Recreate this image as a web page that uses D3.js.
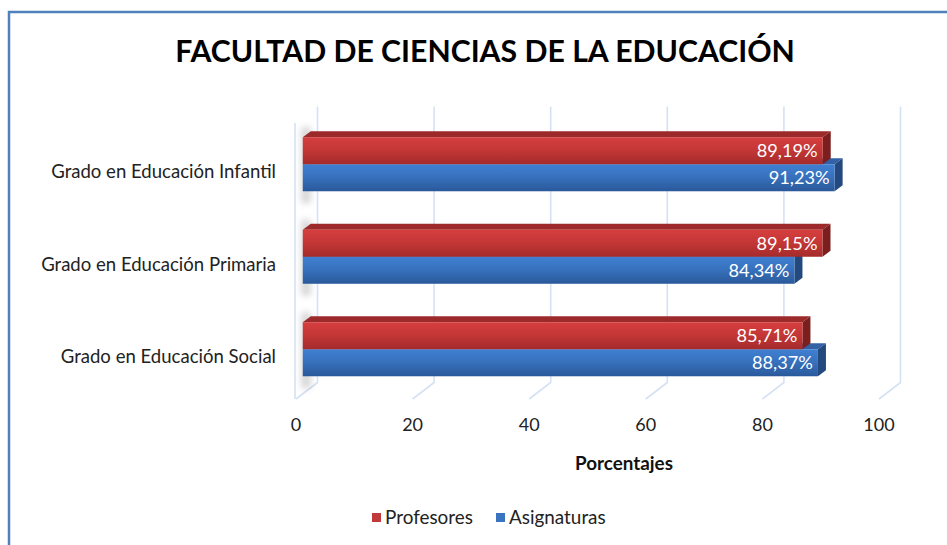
<!DOCTYPE html>
<meta charset="utf-8">
<style>
  body { margin: 0; background: #fff; }
  svg { display: block; font-family: Lato, "Open Sans", sans-serif; }
  .grid { stroke: #d5e2f4; stroke-width: 1.6; fill: none; }
  .cat { fill: #222; }
  .tick { font-size: 18px; fill: #222; }
  .val { fill: #fff; }
  .leg { fill: #222; }
</style>
<body>
<div id="chart"></div>
<script src="https://d3js.org/d3.v7.min.js"></script>
<script>
  // data
  var categories = ["Grado en Educación Infantil", "Grado en Educación Primaria", "Grado en Educación Social"];
  var seriesNames = ["Profesores", "Asignaturas"];
  var profesores = [89.19, 89.15, 85.71];
  var asignaturas = [91.23, 84.34, 88.37];
  var tickValues = [0, 20, 40, 60, 80, 100];
  var title = "FACULTAD DE CIENCIAS DE LA EDUCACIÓN";
  var axisTitle = "Porcentajes";

  var width = 947, height = 545;

  // 3d box: depth offsets of the plot and of the bars
  var depth = { dx: 21.5, dy: -16.5 };
  var barDepth = { dx: 8, dy: -6 };
  var barOff = { dx: 6.75, dy: -5 };
  var floorY = 399, topY = 123;

  var colors = {
    Profesores: { light: "#d63e3e", dark: "#a52b2b", top: "#9c2a2a", side: "#7b1e1e", legend: "#c0393b" },
    Asignaturas: { light: "#3f7fd2", dark: "#2a599a", top: "#3262a5", side: "#23497e", legend: "#3a73c0" }
  };

  // scale a text group's font so that one sample string gets the measured width
  function fitFont(sel, base, target) {
    sel.style("font-size", base + "px");
    var w = sel.node().getComputedTextLength();
    sel.style("font-size", (base * target / w) + "px");
  }

  var x = d3.scaleLinear().domain([0, 100]).range([296, 879]);

  var y = d3.scaleBand()
    .domain(categories)
    .range([118 - barOff.dy, 395.5 - barOff.dy])
    .paddingInner(0.416)
    .paddingOuter(0.208);

  var ys = d3.scaleBand().domain(seriesNames).range([0, y.bandwidth()]);

  var svg = d3.select("#chart").append("svg")
    .attr("width", width)
    .attr("height", height);

  var defs = svg.append("defs");
  seriesNames.forEach(function(s, i) {
    var g = defs.append("linearGradient")
      .attr("id", "grad" + i)
      .attr("x1", 0).attr("y1", 0).attr("x2", 0).attr("y2", 1);
    g.append("stop").attr("offset", "0%").attr("stop-color", colors[s].light);
    g.append("stop").attr("offset", "45%").attr("stop-color", d3.interpolateRgb(colors[s].light, colors[s].dark)(0.35));
    g.append("stop").attr("offset", "100%").attr("stop-color", colors[s].dark);
  });
  defs.append("filter").attr("id", "blur")
    .attr("x", "-50%").attr("y", "-50%").attr("width", "200%").attr("height", "200%")
    .append("feGaussianBlur").attr("stdDeviation", 3);

  // outer border (only top/left visible in the window)
  svg.append("rect")
    .attr("x", 9).attr("y", 12)
    .attr("width", 1000).attr("height", 700)
    .attr("fill", "none")
    .attr("stroke", "#4f81bd")
    .attr("stroke-width", 2.5);

  // title
  var t = svg.append("text")
    .attr("x", 485).attr("y", 62)
    .attr("text-anchor", "middle")
    .style("font-weight", "bold")
    .attr("fill", "#000")
    .text(title);
  fitFont(t, 30, 620);

  // back wall gridlines + floor lines
  var grid = svg.append("g");
  grid.selectAll(".gl")
    .data(tickValues)
    .enter().append("polyline")
    .attr("class", "grid")
    .attr("points", function(d) {
      var bx = x(d) + depth.dx;
      return [[bx, topY + depth.dy], [bx, floorY + depth.dy], [x(d), floorY]].join(" ");
    });

  // left wall front edge
  grid.append("line")
    .attr("class", "grid")
    .attr("x1", x(0) - 1).attr("x2", x(0) - 1)
    .attr("y1", topY).attr("y2", floorY);

  // bar shadows on the left wall
  svg.append("g").selectAll("rect")
    .data(categories)
    .enter().append("rect")
    .attr("x", x(0) + 5)
    .attr("width", 10)
    .attr("y", function(d) { return y(d) + barOff.dy - 10; })
    .attr("height", y.bandwidth() + 22)
    .attr("fill", "#666")
    .attr("opacity", 0.25)
    .attr("filter", "url(#blur)");

  // bars: blue first so red covers its hidden top face
  var bars = [];
  categories.forEach(function(c, i) {
    bars.push({ cat: c, series: "Asignaturas", idx: 1, value: asignaturas[i] });
    bars.push({ cat: c, series: "Profesores", idx: 0, value: profesores[i] });
  });

  var bar = svg.append("g").selectAll("g")
    .data(bars)
    .enter().append("g");

  function geom(d) {
    var x0 = x(0) + barOff.dx, x1 = x(d.value) + barOff.dx;
    var y0 = y(d.cat) + barOff.dy + ys(d.series), y1 = y0 + ys.bandwidth();
    return { x0: x0, x1: x1, y0: y0, y1: y1 };
  }

  // top face
  bar.append("polygon")
    .attr("points", function(d) {
      var g = geom(d);
      return [[g.x0, g.y0], [g.x1, g.y0], [g.x1 + barDepth.dx, g.y0 + barDepth.dy], [g.x0 + barDepth.dx, g.y0 + barDepth.dy]].join(" ");
    })
    .attr("fill", function(d) { return colors[d.series].top; });

  // side face
  bar.append("polygon")
    .attr("points", function(d) {
      var g = geom(d);
      return [[g.x1, g.y0], [g.x1 + barDepth.dx, g.y0 + barDepth.dy], [g.x1 + barDepth.dx, g.y1 + barDepth.dy], [g.x1, g.y1]].join(" ");
    })
    .attr("fill", function(d) { return colors[d.series].side; });

  // front face
  bar.append("rect")
    .attr("x", function(d) { return geom(d).x0; })
    .attr("y", function(d) { return geom(d).y0; })
    .attr("width", function(d) { var g = geom(d); return g.x1 - g.x0; })
    .attr("height", ys.bandwidth())
    .attr("fill", function(d) { return "url(#grad" + d.idx + ")"; });

  // value labels
  var vals = bar.append("text")
    .attr("class", "val")
    .attr("text-anchor", "end")
    .attr("x", function(d) { return geom(d).x1 - 5; })
    .attr("y", function(d) { var g = geom(d); return (g.y0 + g.y1) / 2 + 6.5; })
    .text(function(d) { return d.value.toFixed(2).replace(".", ",") + "%"; });
  fitFont(vals, 16, 61);

  // category labels
  var cats = svg.append("g").selectAll("text")
    .data(categories)
    .enter().append("text")
    .attr("class", "cat")
    .attr("text-anchor", "end")
    .attr("x", 276)
    .attr("y", function(d) { return y(d) + barOff.dy + y.bandwidth() / 2 + 14; })
    .text(function(d) { return d; });
  fitFont(cats, 16, 225);

  // x tick labels
  svg.append("g").selectAll("text")
    .data(tickValues)
    .enter().append("text")
    .attr("class", "tick")
    .attr("text-anchor", "middle")
    .attr("x", function(d) { return x(d); })
    .attr("y", 431)
    .text(function(d) { return d; });

  // axis title
  var at = svg.append("text")
    .attr("x", 624).attr("y", 470)
    .attr("text-anchor", "middle")
    .style("font-weight", "bold")
    .attr("fill", "#111")
    .text(axisTitle);
  fitFont(at, 16, 98);

  // legend
  var legX = [372, 496];
  var leg = svg.append("g").selectAll("g")
    .data(seriesNames)
    .enter().append("g")
    .attr("transform", function(d, i) { return "translate(" + legX[i] + ",513)"; });
  leg.append("rect")
    .attr("width", 9).attr("height", 9)
    .attr("fill", function(d) { return colors[d].legend; });
  var lt = leg.append("text")
    .attr("class", "leg")
    .attr("x", 13).attr("y", 10.5)
    .text(function(d) { return d; });
  fitFont(lt, 16, 88);
</script>
</body>
